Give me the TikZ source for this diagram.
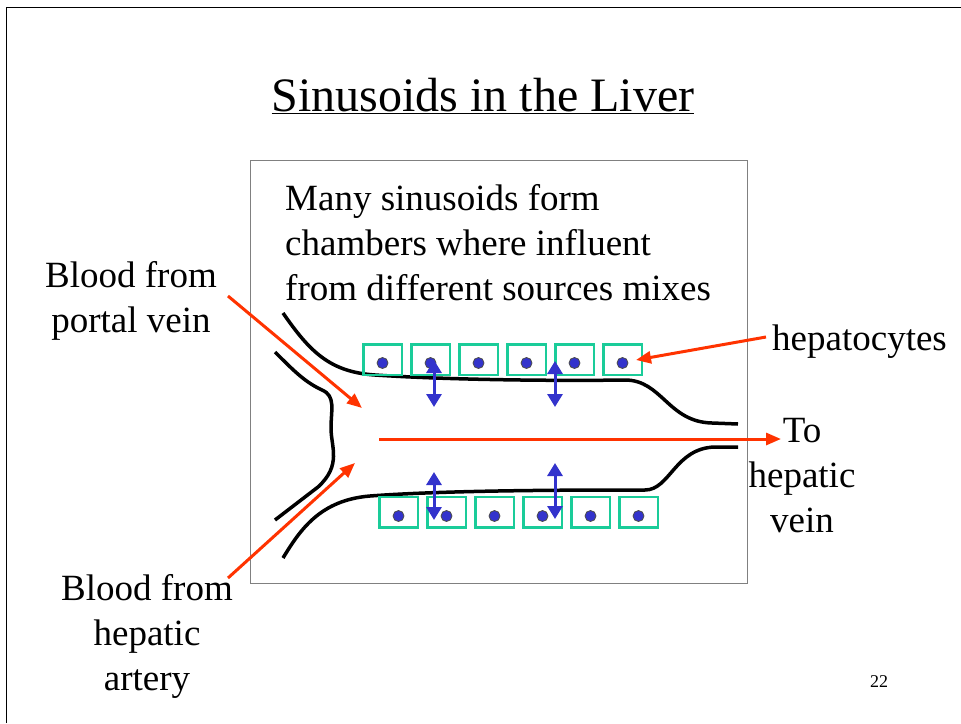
\documentclass[tikz,border=0pt]{standalone}
\usepackage{fontspec}
\setmainfont{Liberation Serif}
\usetikzlibrary{arrows.meta}
\definecolor{flow}{RGB}{255,51,0}
\definecolor{cellgreen}{RGB}{26,204,153}
\definecolor{exch}{RGB}{51,51,204}
\definecolor{framegray}{RGB}{128,128,128}
\begin{document}
\begin{tikzpicture}[x=1pt,y=-1pt,
  lbl/.style={font=\fontsize{37}{45}\selectfont, inner sep=0pt, align=center},
  wall/.style={line width=3.5pt},
  cell/.style={draw=cellgreen, line width=2.5pt, minimum width=38.5pt, minimum height=30.5pt, inner sep=0pt},
  nucleus/.style={circle, fill=exch, draw=black!70, line width=0.8pt, minimum size=11pt, inner sep=0pt},
  flowarrow/.style={draw=flow, line width=3pt, -{Triangle[length=15pt,width=12pt]}},
  exchange/.style={draw=exch, line width=3pt, {Triangle[length=13pt,width=15pt]}-{Triangle[length=13pt,width=15pt]}}]
\useasboundingbox (0,0) rectangle (961,723);

% slide edges
\draw[line width=1pt] (6,723) -- (6,7) -- (961,7);

% title and page number
\node[font=\fontsize{48}{56}\selectfont, inner sep=0pt] (title) at (483,96) {\underline{Sinusoids in the Liver}};
\node[font=\fontsize{18}{22}\selectfont, inner sep=0pt] (page) at (879,682) {22};

% panel
\draw[framegray, line width=1pt] (250,160) rectangle (747,583);

% captions
\node[lbl, align=left, anchor=west] (many) at (285,243) {Many sinusoids form\\chambers where influent\\from different sources mixes};
\node[lbl] (portal) at (131,301) {Blood from\\portal vein};
\node[lbl] (artery) at (147,636) {Blood from\\hepatic\\artery};
\node[lbl, anchor=west] (hepat) at (772,342) {hepatocytes};
\node[lbl] (vein) at (802,476) {To\\hepatic\\vein};

% vessel walls
\draw[wall] (283,313) .. controls (310,352) and (330,372) .. (375,375)
  .. controls (450,380) and (560,381) .. (625,380)
  .. controls (662,380) and (668,422) .. (712,423) -- (738,424);
\draw[wall] (275,352) .. controls (295,372) and (305,382) .. (322,390)
  .. controls (336,396) and (331,410) .. (331,428)
  .. controls (331,447) and (342,465) .. (318,487) -- (275,520);
\draw[wall] (283,558) .. controls (300,530) and (320,500) .. (370,496)
  .. controls (450,490) and (580,490) .. (645,490)
  .. controls (670,490) and (675,448) .. (715,447) -- (738,447);

% hepatocytes
\foreach \i in {0,...,5} {
  \node[cell] (top\i) at (382.5+48*\i,359.5) {};
  \node[nucleus] (topn\i) at (382.5+48*\i,363) {};
  \node[cell] (bot\i) at (398.5+48*\i,512) {};
  \node[nucleus] (botn\i) at (398.5+48*\i,516) {};
}

% flow arrows
\coordinate (portalstart) at (228,296);
\coordinate (portalend) at (362,408);
\coordinate (arterystart) at (228,578);
\coordinate (arteryend) at (355,463);
\coordinate (lumen) at (379,439);
\coordinate (outlet) at (781,439);
\coordinate (hepatstart) at (766,337);
\coordinate (hepatend) at (636,360);
\draw[flowarrow] (portalstart) -- (portalend);
\draw[flowarrow] (arterystart) -- (arteryend);
\draw[flowarrow] (lumen) -- (outlet);
\draw[flowarrow] (hepatstart) -- (hepatend);

% exchange between blood and hepatocytes
\coordinate (ea1) at (434,360); \coordinate (eb1) at (434,407);
\coordinate (ea2) at (555,361); \coordinate (eb2) at (555,407);
\coordinate (ea3) at (434,472); \coordinate (eb3) at (434,520);
\coordinate (ea4) at (555,463); \coordinate (eb4) at (555,519);
\draw[exchange] (ea1) -- (eb1);
\draw[exchange] (ea2) -- (eb2);
\draw[exchange] (ea3) -- (eb3);
\draw[exchange] (ea4) -- (eb4);
\end{tikzpicture}
\end{document}
